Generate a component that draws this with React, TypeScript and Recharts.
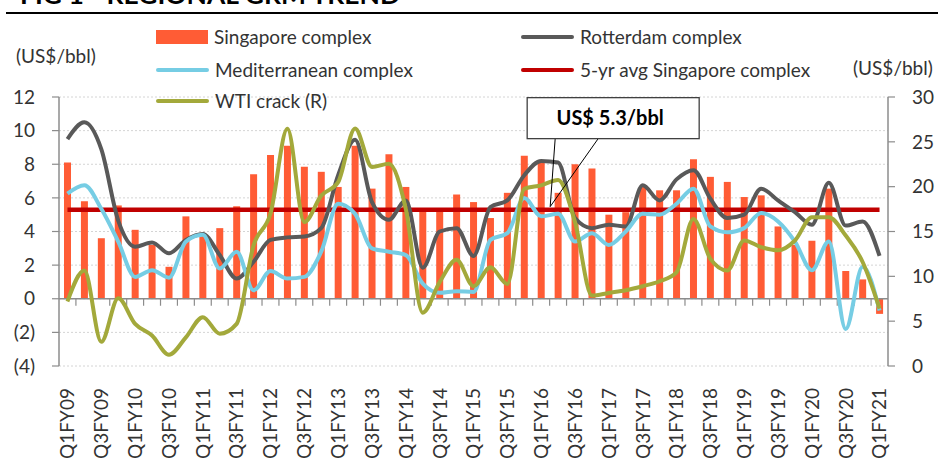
import React from "react";
import { ComposedChart, Bar, Line, XAxis, YAxis, CartesianGrid, ReferenceLine, ReferenceDot } from "recharts";

// quarterly categories (Indian FY)
const quarters = [
  "Q1FY09", "Q2FY09", "Q3FY09", "Q4FY09",
  "Q1FY10", "Q2FY10", "Q3FY10", "Q4FY10",
  "Q1FY11", "Q2FY11", "Q3FY11", "Q4FY11",
  "Q1FY12", "Q2FY12", "Q3FY12", "Q4FY12",
  "Q1FY13", "Q2FY13", "Q3FY13", "Q4FY13",
  "Q1FY14", "Q2FY14", "Q3FY14", "Q4FY14",
  "Q1FY15", "Q2FY15", "Q3FY15", "Q4FY15",
  "Q1FY16", "Q2FY16", "Q3FY16", "Q4FY16",
  "Q1FY17", "Q2FY17", "Q3FY17", "Q4FY17",
  "Q1FY18", "Q2FY18", "Q3FY18", "Q4FY18",
  "Q1FY19", "Q2FY19", "Q3FY19", "Q4FY19",
  "Q1FY20", "Q2FY20", "Q3FY20", "Q4FY20",
  "Q1FY21",
];

// US$/bbl, left axis
const singapore = [
  8.1, 5.8, 3.6, 5.55, 4.1, 3.2, 1.9, 4.9, 3.8, 4.2, 5.5, 7.4, 8.55, 9.1, 7.85, 7.55, 6.65,
  9.1, 6.55, 8.6, 6.65, 5.3, 5.3, 6.2, 5.75, 4.8, 6.3, 8.5, 8.1, 6.3, 8.0, 7.75, 5.0, 5.15,
  6.7, 6.45, 6.45, 8.3, 7.25, 6.95, 6.05, 6.15, 4.3, 3.2, 3.45, 6.55, 1.65, 1.15, -0.9,
];
const rotterdam = [
  9.5, 10.5, 8.9, 4.65, 3.1, 3.35, 2.7, 3.5, 3.85, 2.6, 1.2, 2.2, 3.5, 3.65, 3.7, 4.2, 7.35,
  9.45, 5.75, 4.7, 5.85, 1.85, 4.0, 4.2, 2.55, 5.45, 5.85, 7.35, 8.2, 8.1, 4.8, 4.2, 4.4, 4.3,
  6.75, 5.85, 7.1, 7.65, 5.95, 4.8, 5.0, 6.55, 5.85, 5.15, 4.4, 6.9, 4.35, 4.6, 2.55,
];
const mediterranean = [
  6.25, 6.75, 5.35, 3.4, 1.3, 1.7, 1.25, 3.4, 3.8, 1.8, 2.8, 0.5, 1.65, 1.2, 1.3, 2.8, 5.65,
  5.05, 3.0, 2.8, 2.6, 0.9, 0.35, 0.45, 0.4, 3.5, 3.9, 6.0, 4.9, 5.05, 3.4, 3.9, 3.2, 4.0,
  5.05, 5.0, 5.65, 6.55, 4.3, 3.95, 4.2, 5.1, 4.6, 3.4, 1.7, 3.4, -1.8, 1.9, -0.7,
];
const avgSingapore5yr = 5.3;
// US$/bbl, right axis
const wtiCrack = [
  7.2, 10.65, 2.7, 7.55, 4.7, 3.4, 1.25, 3.2, 5.45, 3.6, 4.7, 13.45, 17.0, 26.45, 16.05, 19.0,
  20.5, 26.5, 22.2, 22.55, 17.5, 5.95, 9.35, 11.85, 8.9, 11.0, 9.15, 19.75, 20.15, 20.75, 16.05,
  7.85, 8.15, 8.45, 8.9, 9.45, 10.45, 16.4, 11.95, 10.65, 14.0, 13.25, 12.9, 14.0, 16.6, 16.6,
  14.55, 11.6, 6.4,
];

const leftTicks = [-4, -2, 0, 2, 4, 6, 8, 10, 12];
const rightTicks = [0, 5, 10, 15, 20, 25, 30];

const data = quarters.map((q, i) => ({
  q,
  singapore: singapore[i],
  rotterdam: rotterdam[i],
  med: mediterranean[i],
  wti: wtiCrack[i],
  avg: avgSingapore5yr,
}));

const FONT = "Lato, 'Open Sans', sans-serif";
const TEXT = "#333333";
const AXIS = "#8c8c8c";
const C_BAR = "#ff5c35";
const C_ROT = "#595959";
const C_MED = "#76cde4";
const C_AVG = "#c00000";
const C_WTI = "#a3a93b";

const fmtLeft = (v: number) => (v < 0 ? `(${Math.abs(v)})` : `${v}`);

function QuarterTick({ x, y, payload }: any) {
  return (
    <text
      transform={`translate(${x},${y + 22}) rotate(-90)`}
      textAnchor="end"
      dy="0.36em"
      fontSize={19}
      fill={TEXT}
      fontFamily={FONT}
    >
      {payload.value}
    </text>
  );
}

// zero line with small ticks between categories
function ZeroAxis(props: any) {
  const { x1, y1, x2 } = props;
  const n = quarters.length;
  const step = (x2 - x1) / n;
  const marks = [];
  for (let k = 1; k < n; k++) {
    const xx = x1 + step * k;
    marks.push(<line key={k} x1={xx} x2={xx} y1={y1} y2={y1 + 7} stroke={AXIS} strokeWidth={1.2} />);
  }
  return (
    <g>
      <line x1={x1} x2={x2} y1={y1} y2={y1} stroke={AXIS} strokeWidth={1.6} />
      {marks}
    </g>
  );
}

function Callout({ cx, cy }: any) {
  const tx = cx + 9;
  const ty = cy - 3;
  const bl = tx - 23;
  const bt = ty - 109;
  const bw = 172;
  const bh = 41;
  return (
    <g>
      <line x1={tx + 5} y1={bt + bh} x2={tx} y2={ty} stroke="#000" strokeWidth={1} />
      <line x1={tx + 48} y1={bt + bh} x2={tx} y2={ty} stroke="#000" strokeWidth={1} />
      <rect x={bl} y={bt} width={bw} height={bh} fill="#fff" stroke="#404040" strokeWidth={1.3} />
      <text x={bl + bw / 2 - 3} y={bt + bh / 2} dy="0.36em" textAnchor="middle" fontWeight={700} fontSize={20} fill="#000" fontFamily={FONT}>
        US$ 5.3/bbl
      </text>
    </g>
  );
}

function LegendItem({ left, cy, kind, color, label }: any) {
  return (
    <div style={{ position: "absolute", left, top: cy - 12, height: 24, display: "flex", alignItems: "center" }}>
      {kind === "bar" ? (
        <div style={{ width: 52, height: 14, background: color }} />
      ) : (
        <div style={{ width: 53, height: 4, background: color, borderRadius: 2 }} />
      )}
      <span style={{ marginLeft: 6, fontSize: 19, color: TEXT, lineHeight: "24px", whiteSpace: "nowrap" }}>{label}</span>
    </div>
  );
}

export default function App() {
  return (
    <div style={{ position: "absolute", left: 0, top: 0, width: 941, height: 462, background: "#fff", overflow: "hidden", fontFamily: FONT }}>
      <ComposedChart width={941} height={462} data={data} margin={{ top: 97, right: 0, bottom: 0, left: 0 }}>
        <CartesianGrid yAxisId="left" vertical={false} strokeDasharray="2 2" stroke="#d4d4d4" />
        <XAxis
          dataKey="q"
          interval={1}
          axisLine={false}
          tickLine={false}
          tickSize={0}
          tickMargin={0}
          height={96}
          tick={<QuarterTick />}
        />
        <YAxis
          yAxisId="left"
          domain={[-4, 12]}
          ticks={leftTicks}
          tickFormatter={fmtLeft}
          width={59}
          tickSize={7}
          tickMargin={17}
          axisLine={{ stroke: AXIS, strokeWidth: 1.5 }}
          tickLine={{ stroke: AXIS, strokeWidth: 1.2 }}
          tick={{ fill: TEXT, fontSize: 19, fontFamily: FONT }}
        />
        <YAxis
          yAxisId="right"
          orientation="right"
          domain={[0, 30]}
          ticks={rightTicks}
          width={53}
          tickSize={7}
          tickMargin={17}
          axisLine={{ stroke: AXIS, strokeWidth: 1.5 }}
          tickLine={{ stroke: AXIS, strokeWidth: 1.2 }}
          tick={{ fill: TEXT, fontSize: 19, fontFamily: FONT, textAnchor: "start" }}
        />
        <Bar yAxisId="left" dataKey="singapore" fill={C_BAR} barSize={7} isAnimationActive={false} />
        <ReferenceLine yAxisId="left" y={0} shape={ZeroAxis} />
        <Line yAxisId="left" type="linear" dataKey="avg" stroke={C_AVG} strokeWidth={4.5} dot={false} activeDot={false} isAnimationActive={false} />
        <Line yAxisId="left" type="monotone" dataKey="rotterdam" stroke={C_ROT} strokeWidth={4} dot={false} activeDot={false} isAnimationActive={false} />
        <Line yAxisId="left" type="monotone" dataKey="med" stroke={C_MED} strokeWidth={4} dot={false} activeDot={false} isAnimationActive={false} />
        <Line yAxisId="right" type="monotone" dataKey="wti" stroke={C_WTI} strokeWidth={4} dot={false} activeDot={false} isAnimationActive={false} />
        <ReferenceDot yAxisId="left" x={quarters[28]} y={avgSingapore5yr} r={0} shape={Callout} ifOverflow="visible" />
      </ComposedChart>

      <svg width={941} height={20} style={{ position: "absolute", left: 0, top: 0 }}>
        <text x={20} y={4} fontSize={24} fontWeight={700} fill="#000" fontFamily={FONT} textLength={380} lengthAdjust="spacingAndGlyphs">
          FIG 1 - REGIONAL GRM TREND
        </text>
        <line x1={6} x2={938} y1={13} y2={13} stroke="#000" strokeWidth={2.2} />
      </svg>

      <div style={{ position: "absolute", left: 16, top: 44, fontSize: 19, color: TEXT, lineHeight: "24px" }}>(US$/bbl)</div>
      <div style={{ position: "absolute", left: 853, top: 56, fontSize: 19, color: TEXT, lineHeight: "24px" }}>(US$/bbl)</div>

      <LegendItem left={156} cy={37} kind="bar" color={C_BAR} label="Singapore complex" />
      <LegendItem left={156} cy={70} kind="line" color={C_MED} label="Mediterranean complex" />
      <LegendItem left={156} cy={101} kind="line" color={C_WTI} label="WTI crack (R)" />
      <LegendItem left={521} cy={37} kind="line" color={C_ROT} label="Rotterdam complex" />
      <LegendItem left={521} cy={70} kind="line" color={C_AVG} label="5-yr avg Singapore complex" />
    </div>
  );
}
